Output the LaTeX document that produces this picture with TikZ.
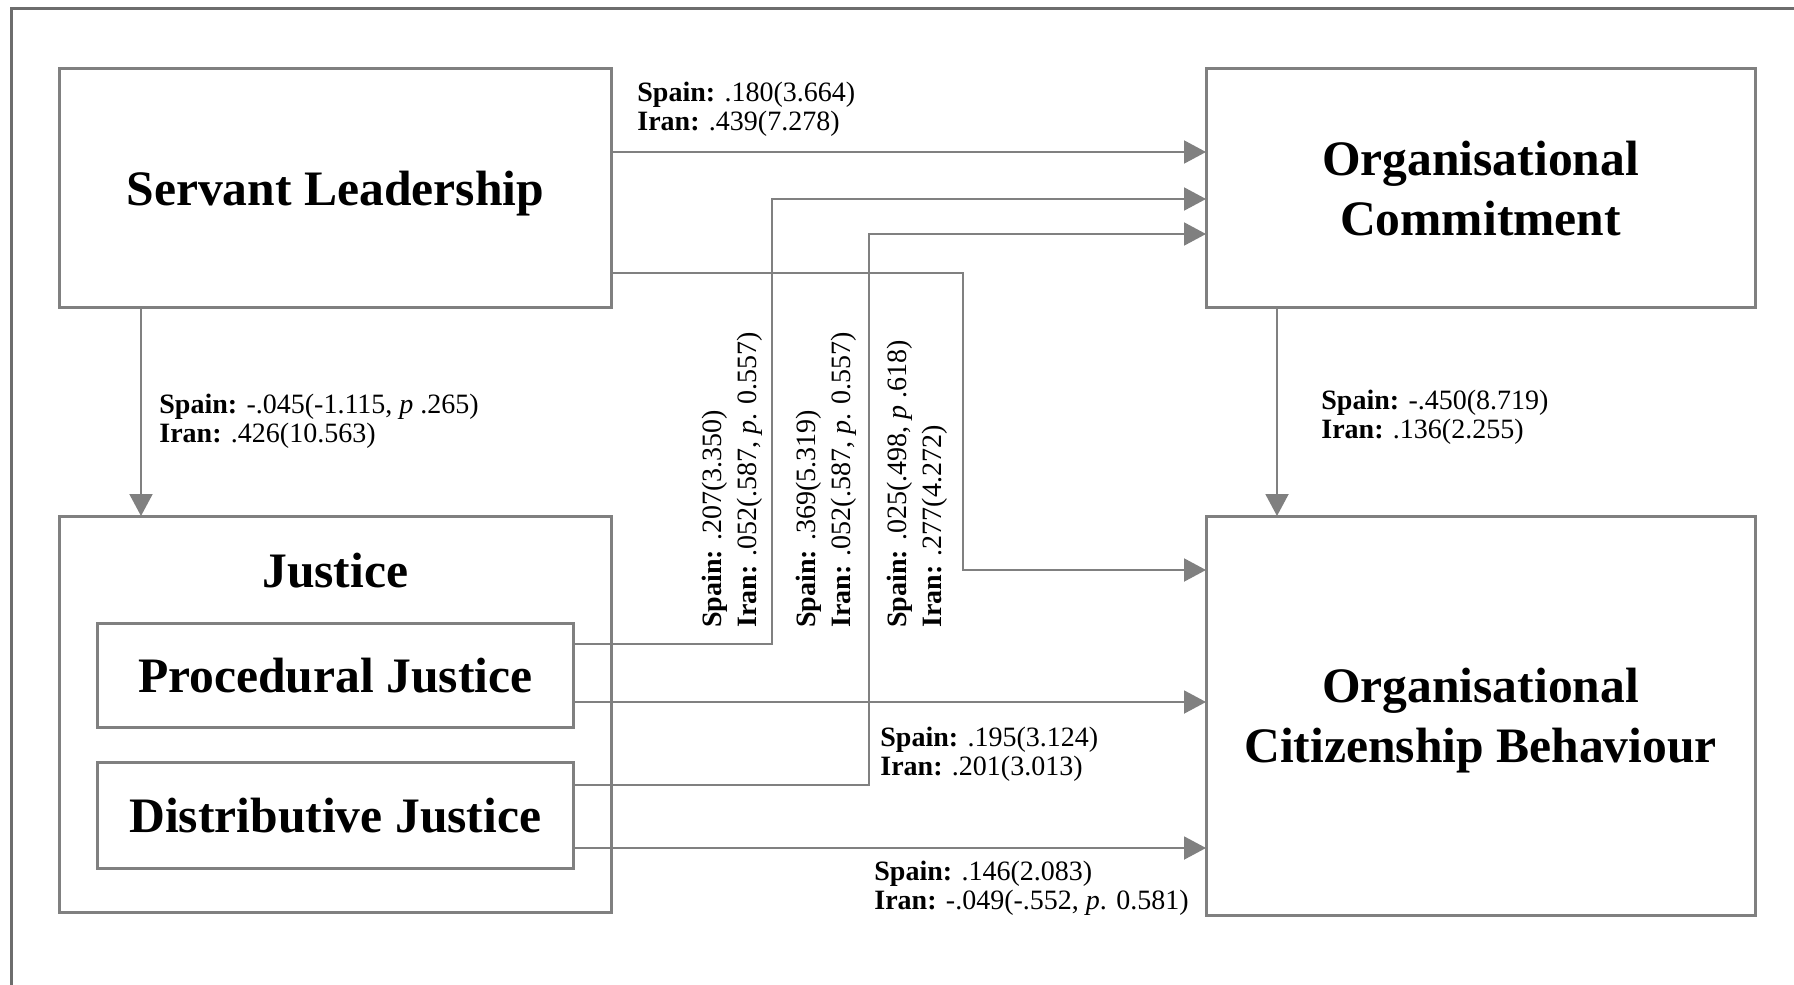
\documentclass[tikz,border=0pt]{standalone}
\usepackage{fontspec}
\setmainfont{Liberation Serif}
\usetikzlibrary{arrows.meta}
\definecolor{linegray}{RGB}{128,128,128}

\begin{document}
\begin{tikzpicture}[x=0.5pt, y=-0.5pt,
    box/.style={draw=linegray, line width=1.5pt, inner sep=0pt, outer sep=0pt, align=center},
    title/.style={font=\fontsize{24.8}{30}\selectfont\bfseries, align=center, text depth=0pt},
    conn/.style={linegray, line width=1pt, -{Triangle[length=11pt, width=11.5pt]}},
    coef/.style={font=\fontsize{14}{14.5}\selectfont, align=left, inner sep=0pt, anchor=north west},
    vcoef/.style={font=\fontsize{14}{17.5}\selectfont, align=left, inner sep=0pt, rotate=90, anchor=west}]
    \useasboundingbox (0,0) rectangle (1794,985);

    % outer frame
    \draw[linegray!85!black, line width=1.5pt] (11,985) -- (11,8) -- (1794,8);

    % constructs
    \node[box, title, minimum width=275.75pt, minimum height=119.6pt] (sl) at (335.25,188.2) {Servant Leadership};
    \node[box, title, minimum width=274.5pt, minimum height=119.6pt] (oc) at (1480.5,188.2) {Organisational\\Commitment};
    \node[box, minimum width=275.75pt, minimum height=198pt] (jus) at (335.25,714) {};
    \node[title] (justitle) at (335.25,570) {Justice};
    \node[box, title, minimum width=238pt, minimum height=52pt] (pj) at (335.25,675.5) {Procedural Justice};
    \node[box, title, minimum width=238pt, minimum height=53pt] (dj) at (335.25,815) {Distributive Justice};
    \node[box, title, minimum width=274.5pt, minimum height=199.5pt] (ocb) at (1480.5,715.5) {Organisational\\Citizenship Behaviour};

    % paths
    \draw[conn] (sl.east |- 0,152) -- (oc.west |- 0,152);
    \draw[conn] (pj.east |- 0,644) -| (772,199) -- (oc.west |- 0,199);
    \draw[conn] (dj.east |- 0,785) -| (869,234) -- (oc.west |- 0,234);
    \draw[conn] (sl.east |- 0,273) -| (963,570) -- (ocb.west |- 0,570);
    \draw[conn] (pj.east |- 0,702) -- (ocb.west |- 0,702);
    \draw[conn] (dj.east |- 0,848) -- (ocb.west |- 0,848);
    \draw[conn] (sl.south -| 141,0) -- (jus.north -| 141,0);
    \draw[conn] (oc.south -| 1277,0) -- (ocb.north -| 1277,0);

    % coefficients
    \node[coef] (c1) at (637,82) {\textbf{Spain:} .180(3.664)\\\textbf{Iran:} .439(7.278)};
    \node[coef] (c2) at (159,394) {\textbf{Spain:} -.045(-1.115, \textit{p} .265)\\\textbf{Iran:} .426(10.563)};
    \node[coef] (c3) at (1321,390) {\textbf{Spain:} -.450(8.719)\\\textbf{Iran:} .136(2.255)};
    \node[coef] (c4) at (880,727) {\textbf{Spain:} .195(3.124)\\\textbf{Iran:} .201(3.013)};
    \node[coef] (c5) at (874,861) {\textbf{Spain:} .146(2.083)\\\textbf{Iran:} -.049(-.552, \textit{p}. 0.581)};
    \node[vcoef] (v1) at (732,628) {\textbf{Spain:} .207(3.350)\\\textbf{Iran:} .052(.587, \textit{p}. 0.557)};
    \node[vcoef] (v2) at (826,628) {\textbf{Spain:} .369(5.319)\\\textbf{Iran:} .052(.587, \textit{p}. 0.557)};
    \node[vcoef] (v3) at (917.5,628) {\textbf{Spain:} .025(.498, \textit{p} .618)\\\textbf{Iran:} .277(4.272)};
\end{tikzpicture}
\end{document}
